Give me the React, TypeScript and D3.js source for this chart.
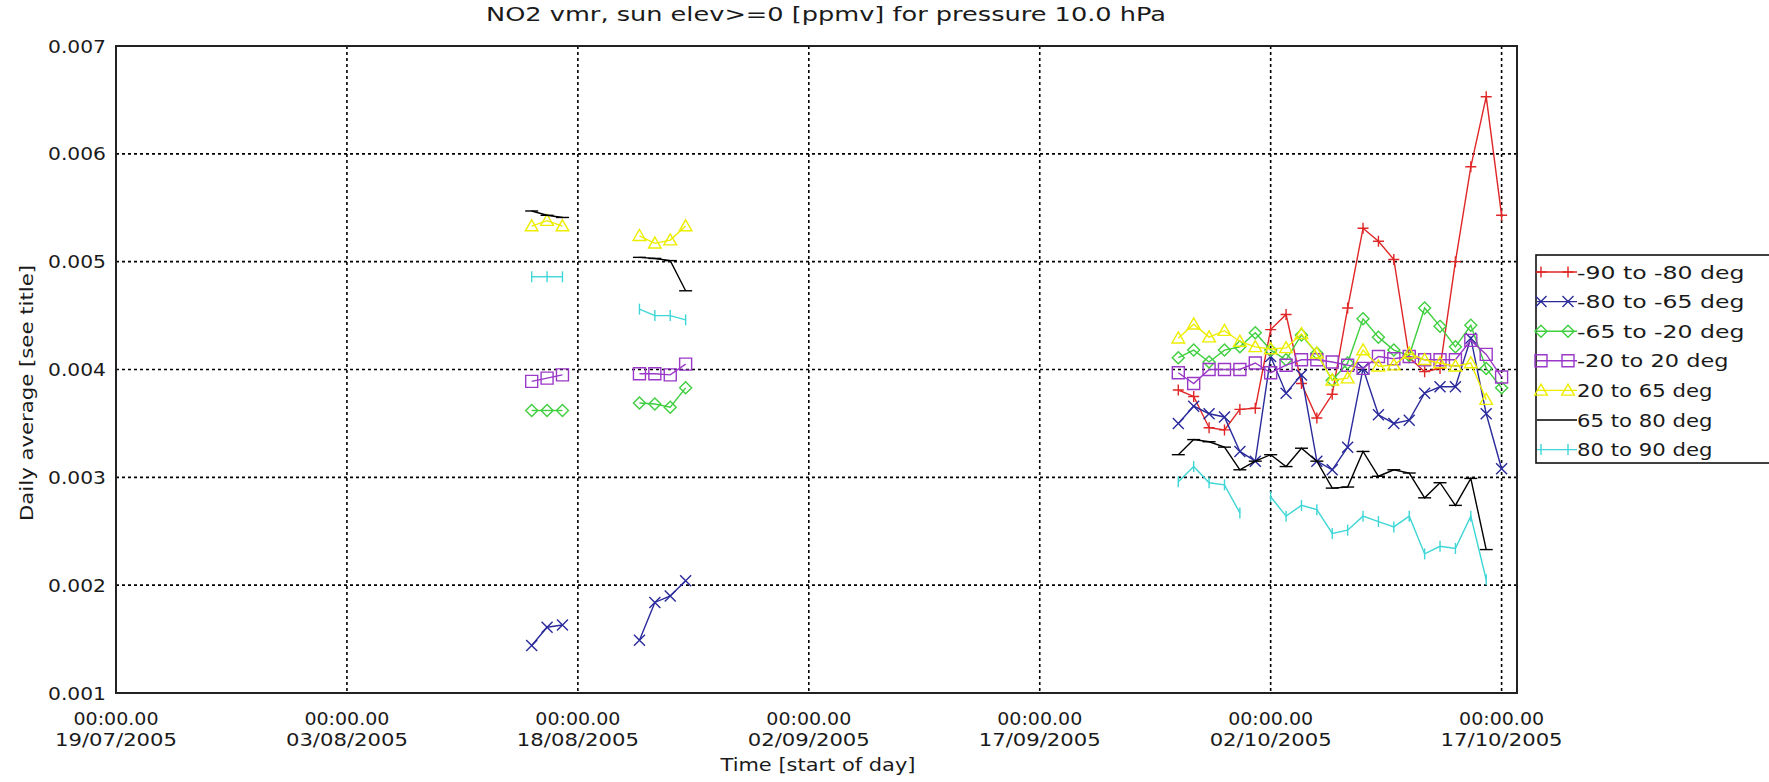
import React from "react";
import * as d3 from "d3";

// ---------- data ----------
const dates = [
  "2005-08-15", "2005-08-16", "2005-08-17",
  "2005-08-22", "2005-08-23", "2005-08-24", "2005-08-25",
  "2005-09-26", "2005-09-27", "2005-09-28", "2005-09-29", "2005-09-30",
  "2005-10-01", "2005-10-02", "2005-10-03", "2005-10-04", "2005-10-05",
  "2005-10-06", "2005-10-07", "2005-10-08", "2005-10-09", "2005-10-10",
  "2005-10-11", "2005-10-12", "2005-10-13", "2005-10-14", "2005-10-15",
  "2005-10-16", "2005-10-17",
];

const lat90to80 = [null, null, null, null, null, null, null,
  0.00381, 0.00375, 0.00346, 0.00344, 0.00363, 0.00364, 0.00437, 0.00451, 0.00387, 0.00355,
  0.00377, 0.00457, 0.00531, 0.00519, 0.00502, 0.00411, 0.00398, 0.00401, 0.00500, 0.00588,
  0.00653, 0.00543];
const lat80to65 = [0.00144, 0.00161, 0.00163, 0.00149, 0.00184, 0.00190, 0.00204,
  0.00350, 0.00366, 0.00359, 0.00356, 0.00324, 0.00315, 0.00412, 0.00378, 0.00395, 0.00315,
  0.00307, 0.00328, 0.00401, 0.00358, 0.00350, 0.00353, 0.00378, 0.00384, 0.00384, 0.00429,
  0.00359, 0.00308];
const lat65to20 = [0.00362, 0.00362, 0.00362, 0.00369, 0.00368, 0.00365, 0.00383,
  0.00411, 0.00418, 0.00407, 0.00418, 0.00421, 0.00434, 0.00418, 0.00409, 0.00432, 0.00415,
  0.00390, 0.00406, 0.00447, 0.00430, 0.00418, 0.00413, 0.00457, 0.00440, 0.00421, 0.00441,
  0.00401, 0.00383];
const lat20to20 = [0.00389, 0.00392, 0.00395, 0.00396, 0.00396, 0.00395, 0.00405,
  0.00397, 0.00387, 0.00400, 0.00400, 0.00400, 0.00406, 0.00397, 0.00404, 0.00409, 0.00409,
  0.00407, 0.00404, 0.00401, 0.00412, 0.00410, 0.00412, 0.00409, 0.00409, 0.00409, 0.00427,
  0.00414, 0.00393];
const lat20to65 = [0.00533, 0.00538, 0.00533, 0.00524, 0.00517, 0.00520, 0.00533,
  0.00429, 0.00442, 0.00430, 0.00436, 0.00426, 0.00421, 0.00419, 0.00420, 0.00433, 0.00415,
  0.00390, 0.00392, 0.00418, 0.00403, 0.00404, 0.00415, 0.00409, 0.00406, 0.00403, 0.00406,
  0.00372, null];
const lat65to80 = [0.00547, 0.00543, 0.00541, 0.00504, 0.00503, 0.00501, 0.00473,
  0.00321, 0.00335, 0.00333, 0.00328, 0.00307, 0.00315, 0.00321, 0.00310, 0.00327, 0.00315,
  0.00290, 0.00291, 0.00324, 0.00301, 0.00307, 0.00304, 0.00281, 0.00295, 0.00274, 0.00299,
  0.00233, null];
const lat80to90 = [0.00486, 0.00486, 0.00486, 0.00456, 0.00450, 0.00450, 0.00446,
  0.00296, 0.00310, 0.00295, 0.00293, 0.00267, null, 0.00282, 0.00264, 0.00274, 0.00270,
  0.00248, 0.00251, 0.00264, 0.00259, 0.00254, 0.00264, 0.00229, 0.00236, 0.00234, 0.00264,
  0.00205, null];

const seriesLabels = ["-90 to -80 deg", "-80 to -65 deg", "-65 to -20 deg", "-20 to 20 deg",
  "20 to 65 deg", "65 to 80 deg", "80 to 90 deg"];
const seriesValues = [lat90to80, lat80to65, lat65to20, lat20to20, lat20to65, lat65to80, lat80to90];
const seriesColors = ["#e02626", "#2a2a9c", "#3fcf3f", "#9a38c8", "#eded00", "#000000", "#3ed6d6"];
const seriesMarkers = ["plus", "x", "diamond", "square", "triangle", "hbar", "vbar"];

const xTickDates = ["2005-07-19", "2005-08-03", "2005-08-18", "2005-09-02", "2005-09-17", "2005-10-02", "2005-10-17"];
const yTickValues = [0.001, 0.002, 0.003, 0.004, 0.005, 0.006, 0.007];

const titleText = "NO2 vmr, sun elev>=0 [ppmv] for pressure 10.0 hPa";
const xTitle = "Time [start of day]";
const yTitle = "Daily average [see title]";

// ---------- layout ----------
const W = 1769, H = 782;
const L = 116, R = 1517, T = 46, B = 693;
const FONT = "'DejaVu Sans', sans-serif";
const TXT = "#1a1a1a";

const parse = d3.utcParse("%Y-%m-%d");
const fmtDate = d3.utcFormat("%d/%m/%Y");
const fmtTime = d3.utcFormat("%H:%M.%S");

const x = d3.scaleUtc().domain([parse("2005-07-19")!, parse("2005-10-18")!]).range([L, R]);
const y = d3.scaleLinear().domain([0.001, 0.007]).range([B, T]);

const markerSize: Record<string, number> = {
  plus: 5.5, x: 5.5, diamond: 6, square: 6, triangle: 6.3, hbar: 6.5, vbar: 5.5,
};

function markerPath(kind: string, cx: number, cy: number) {
  const s = markerSize[kind];
  switch (kind) {
    case "plus": return `M${cx - s},${cy}H${cx + s}M${cx},${cy - s}V${cy + s}`;
    case "x": return `M${cx - s},${cy - s}L${cx + s},${cy + s}M${cx - s},${cy + s}L${cx + s},${cy - s}`;
    case "diamond": return `M${cx},${cy - s}L${cx + s},${cy}L${cx},${cy + s}L${cx - s},${cy}Z`;
    case "square": return `M${cx - s},${cy - s}H${cx + s}V${cy + s}H${cx - s}Z`;
    case "triangle": return `M${cx},${cy - s}L${cx + s},${cy + s * 0.75}L${cx - s},${cy + s * 0.75}Z`;
    case "hbar": return `M${cx - s},${cy}H${cx + s}`;
    case "vbar": return `M${cx},${cy - s}V${cy + s}`;
  }
  return "";
}

function hw(s: string) {
  let w = 0;
  for (const c of s) {
    if (c === "-") w += 16;
    else if (c === " ") w += 10;
    else if (/[0-9]/.test(c)) w += 12;
    else w += 11.5;
  }
  return w;
}

type Pt = { t: Date; v: number };

function segmentsOf(vals: (number | null)[]) {
  const segs: Pt[][] = [];
  let cur: Pt[] = [];
  let prev: Date | null = null;
  vals.forEach((v, i) => {
    const t = parse(dates[i])!;
    if (v == null) {
      if (cur.length) segs.push(cur);
      cur = [];
      prev = null;
      return;
    }
    if (prev && (t.getTime() - prev.getTime()) > 86400000 * 1.5) {
      if (cur.length) segs.push(cur);
      cur = [];
    }
    cur.push({ t, v });
    prev = t;
  });
  if (cur.length) segs.push(cur);
  return segs;
}

const line = d3.line<Pt>().x((d) => x(d.t)).y((d) => y(d.v));

export default function App() {
  const legendX = 1536, legendY = 255, rowY0 = 272, rowStep = 29.6;
  return (
    <svg width={W} height={H} style={{ position: "absolute", left: 0, top: 0, background: "#fff" }}
      fontFamily={FONT}>
      <rect x={0} y={0} width={W} height={H} fill="#fff" />
      {/* title */}
      <text x={826} y={21} textAnchor="middle" fontSize={19} fill={TXT}
        textLength={680} lengthAdjust="spacingAndGlyphs">{titleText}</text>

      {/* gridlines */}
      {yTickValues.slice(1, -1).map((v) => (
        <line key={"gy" + v} x1={L} x2={R} y1={y(v)} y2={y(v)} stroke="#000" strokeWidth={1.6}
          strokeDasharray="3,3" />
      ))}
      {xTickDates.slice(1).map((d) => (
        <line key={"gx" + d} x1={x(parse(d)!)} x2={x(parse(d)!)} y1={T} y2={B} stroke="#000"
          strokeWidth={1.6} strokeDasharray="3,3" />
      ))}

      {/* series */}
      {seriesValues.map((vals, si) => {
        const segs = segmentsOf(vals);
        const col = seriesColors[si];
        const mk = seriesMarkers[si];
        return (
          <g key={"s" + si}>
            {segs.map((seg, k) => (
              <path key={k} d={line(seg) || ""} fill="none" stroke={col} strokeWidth={1.4} />
            ))}
            {segs.flat().map((p, k) => (
              <path key={"m" + k} d={markerPath(mk, x(p.t), y(p.v))} fill="none" stroke={col}
                strokeWidth={1.4} />
            ))}
          </g>
        );
      })}

      {/* frame */}
      <rect x={L} y={T} width={R - L} height={B - T} fill="none" stroke="#222" strokeWidth={2} />

      {/* y tick labels */}
      {yTickValues.map((v) => (
        <text key={"yl" + v} x={106} y={y(v) + 6.5} textAnchor="end" fontSize={18} fill={TXT}
          textLength={58} lengthAdjust="spacingAndGlyphs">{v.toFixed(3)}</text>
      ))}

      {/* x tick labels */}
      {xTickDates.map((d) => {
        const t = parse(d)!;
        return (
          <g key={"xl" + d}>
            <text x={x(t)} y={725} textAnchor="middle" fontSize={17} fill={TXT}
              textLength={85} lengthAdjust="spacingAndGlyphs">{fmtTime(t)}</text>
            <text x={x(t)} y={746} textAnchor="middle" fontSize={17} fill={TXT}
              textLength={122} lengthAdjust="spacingAndGlyphs">{fmtDate(t)}</text>
          </g>
        );
      })}

      {/* axis titles */}
      <text x={818} y={771} textAnchor="middle" fontSize={17} fill={TXT}
        textLength={195} lengthAdjust="spacingAndGlyphs">{xTitle}</text>
      <text transform={`translate(33,393) rotate(-90)`} textAnchor="middle" fontSize={17} fill={TXT}
        textLength={256} lengthAdjust="spacingAndGlyphs">{yTitle}</text>

      {/* legend */}
      <rect x={legendX} y={legendY} width={260} height={208} fill="#fff" stroke="#111" strokeWidth={1.6} />
      {seriesLabels.map((lab, i) => {
        const ry = rowY0 + i * rowStep;
        const col = seriesColors[i];
        const mk = seriesMarkers[i];
        return (
          <g key={"lg" + i}>
            <line x1={1537} x2={1577} y1={ry} y2={ry} stroke={col} strokeWidth={1.4} />
            {mk !== "hbar" && [1541, 1568].map((mx) => (
              <path key={mx} d={markerPath(mk, mx, ry)} fill="none" stroke={col} strokeWidth={1.4} />
            ))}
            <text x={1577} y={ry + 6.5} fontSize={18} fill={TXT} textLength={hw(lab)}
              lengthAdjust="spacingAndGlyphs">{lab}</text>
          </g>
        );
      })}
    </svg>
  );
}
